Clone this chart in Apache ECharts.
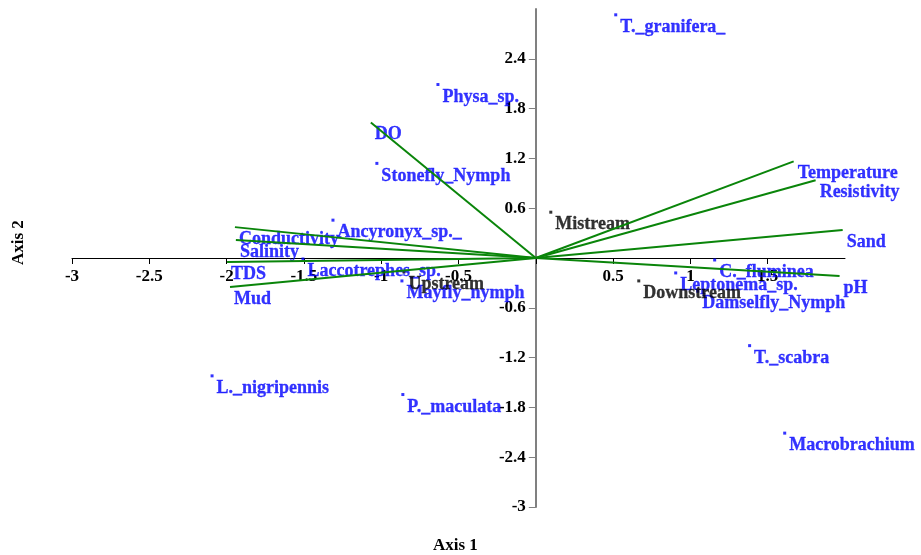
<!DOCTYPE html>
<html>
<head>
<meta charset="utf-8">
<script src="https://cdn.jsdelivr.net/npm/echarts@6/dist/echarts.min.js"></script>
<style>html,body{margin:0;padding:0;background:#fff}#c{width:921px;height:555px}</style>
</head>
<body>
<div id="c"></div>
<script>
// Species scores
const speciesNames = ['T._granifera_','Physa_sp.','Stonefly_Nymph','Ancyronyx_sp._','Laccotrephes_sp.','Mayfly_nymph','L._nigripennis','P._maculata','C._fluminea','Leptonema_sp.','Damselfly_Nymph','T._scabra','Macrobrachium'];
const speciesX = [0.517,-0.633,-1.028,-1.312,-1.506,-0.866,-2.094,-0.860,1.157,0.905,1.047,1.383,1.610];
const speciesY = [2.93,2.09,1.14,0.456,-0.012,-0.276,-1.42,-1.645,-0.024,-0.18,-0.40,-1.056,-2.11];
// Site scores
const siteNames = ['Mistream','Downstream','Upstream'];
const siteX = [0.097,0.666,-0.853];
const siteY = [0.552,-0.276,-0.168];
// Environmental vectors
const envNames = ['DO','Temperature','Resistivity','Sand','pH','Conductivity','Salinity','TDS','Mud'];
const envX = [-1.067,1.668,1.810,1.985,1.965,-1.946,-1.940,-1.997,-1.978];
const envY = [1.633,1.164,0.936,0.336,-0.216,0.372,0.216,-0.048,-0.348];
// Axis ticks
const xTicks = [-3,-2.5,-2,-1.5,-1,-0.5,0,0.5,1,1.5];
const yTicks = [-3,-2.4,-1.8,-1.2,-0.6,0,0.6,1.2,1.8,2.4];
const xMin = -3, xMax = 2;
const yMin = -3, yMax = 3;

const FONT = '"Liberation Serif","Times New Roman",serif';
const BLUE = '#0000ff';
const labelBase = {show:true, position:[6,14], align:'left', verticalAlign:'middle',
  fontFamily:FONT, fontWeight:700, fontSize:18, formatter:p=>p.data[2]};

const series = [];
envNames.forEach((n,i)=>{
  series.push({type:'line', z:3, data:[[0,0],[envX[i],envY[i]]], symbol:'none', silent:true,
    lineStyle:{color:'#0a850a', width:2}, animation:false});
});
const blueLabel = Object.assign({}, labelBase, {color:BLUE, textBorderColor:BLUE, textBorderWidth:0.3});
series.push({type:'scatter', data:envNames.map((n,i)=>[envX[i],envY[i],n]), symbolSize:4,
  itemStyle:{color:'rgba(0,0,0,0)'}, label:blueLabel, animation:false});
series.push({type:'scatter', data:speciesNames.map((n,i)=>[speciesX[i],speciesY[i],n]), symbol:'rect', symbolSize:3,
  itemStyle:{color:BLUE}, label:blueLabel, animation:false});
series.push({type:'scatter', data:siteNames.map((n,i)=>[siteX[i],siteY[i],n]), symbol:'rect', symbolSize:3,
  itemStyle:{color:'#000'}, label:Object.assign({}, labelBase, {color:'#000', textBorderColor:'#000', textBorderWidth:0.3}), animation:false});

const GL = 72, GR = 76, GT = 9, GB = 48, W = 921, H = 555;
const plotW = W - GL - GR, plotH = H - GT - GB;
// pixel offsets so both axes sit at the zero of the other axis
const xAxisOffset = -plotH * (0 - yMin) / (yMax - yMin);
const yAxisOffset = -plotW * (0 - xMin) / (xMax - xMin);
const fmt = v => Math.abs(v) < 1e-9 ? '' : String(+(+v).toFixed(1));

const chart = echarts.init(document.getElementById('c'));
chart.setOption({
  animation:false,
  grid:{left:GL, right:GR, top:GT, bottom:GB},
  xAxis:{type:'value', min:xMin, max:xMax, interval:0.5, position:'bottom', offset:xAxisOffset,
    axisLine:{onZero:false, lineStyle:{color:'#000', width:1}},
    axisTick:{show:true, length:6, lineStyle:{color:'#000'}, customValues:xTicks},
    splitLine:{show:false},
    axisLabel:{margin:10, color:'#000', fontFamily:FONT, fontWeight:700, fontSize:17,
      customValues:xTicks, formatter:fmt}},
  yAxis:{type:'value', min:yMin, max:yMax, interval:0.6, position:'left', offset:yAxisOffset,
    axisLine:{onZero:false, lineStyle:{color:'#808080', width:2}},
    axisTick:{show:true, length:7, lineStyle:{color:'#808080'}, customValues:yTicks},
    splitLine:{show:false},
    axisLabel:{margin:10, color:'#000', fontFamily:FONT, fontWeight:700, fontSize:17,
      customValues:yTicks, formatter:fmt}},
  graphic:[
    {type:'text', left:433, top:537, style:{text:'Axis 1', fontFamily:FONT, fontWeight:700, fontSize:17, fill:'#000'}},
    {type:'text', x:10, y:265, rotation:Math.PI/2, style:{text:'Axis 2', fontFamily:FONT, fontWeight:700, fontSize:17, fill:'#000'}}
  ],
  series:series
});
</script>
</body>
</html>
